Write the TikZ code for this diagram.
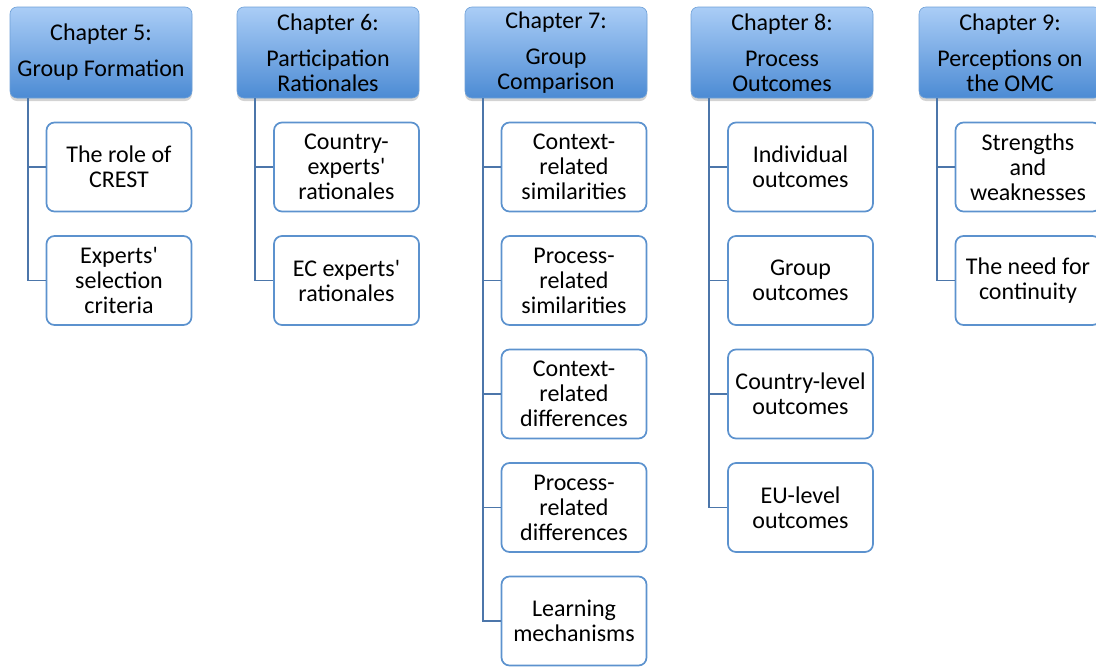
\documentclass[tikz,border=0pt]{standalone}
\usepackage{fontspec}
\setmainfont{Carlito}
\usetikzlibrary{positioning,shadows}

\definecolor{chaptop}{RGB}{170,205,246}
\definecolor{chapbot}{RGB}{76,139,212}
\definecolor{chapline}{RGB}{110,160,215}
\definecolor{topicline}{RGB}{92,146,206}
\definecolor{linkcol}{RGB}{76,118,170}

\tikzset{
    chap/.style={draw=chapline, line width=0.6pt, rounded corners=7pt,
        top color=chaptop, bottom color=chapbot,
        minimum width=182pt, minimum height=91pt, align=center, inner sep=1pt,
        drop shadow={shadow xshift=0pt, shadow yshift=-3pt, opacity=0.35}},
    topic/.style={draw=topicline, line width=1.7pt, fill=white, rounded corners=8pt,
        minimum width=145pt, minimum height=89pt, align=center, inner sep=1pt},
    link/.style={draw=linkcol, line width=1.8pt}
}
\newcommand{\apo}{\textquotesingle}

\begin{document}
\begin{tikzpicture}[x=1pt, y=-1pt, font=\fontsize{24}{25}\selectfont]
    \useasboundingbox (0,0) rectangle (1096,667);
    % chapter headers
    \node[chap] (h5) at (101,52.5) {Chapter 5:\\[11pt]Group Formation};
    \node[chap] (h6) at (328,52.5) {Chapter 6:\\[11pt]Participation\\Rationales};
    \node[chap] (h7) at (556,52.5) {Chapter 7:\\[11pt]Group\\Comparison};
    \node[chap] (h8) at (782,52.5) {Chapter 8:\\[11pt]Process\\Outcomes};
    \node[chap] (h9) at (1010,52.5) {Chapter 9:\\[11pt]Perceptions on\\the OMC};
    % chapter 5
    \node[topic] (c5a) at (119,167) {The role of\\CREST};
    \node[topic] (c5b) at (119,280.5) {Experts\apo\\selection\\criteria};
    % chapter 6
    \node[topic] (c6a) at (346.5,167) {Country-\\experts\apo\\rationales};
    \node[topic] (c6b) at (346.5,280.5) {EC experts\apo\\rationales};
    % chapter 7
    \node[topic] (c7a) at (574,167) {Context-\\related\\similarities};
    \node[topic] (c7b) at (574,280.5) {Process-\\related\\similarities};
    \node[topic] (c7c) at (574,394) {Context-\\related\\differences};
    \node[topic] (c7d) at (574,507.5) {Process-\\related\\differences};
    \node[topic] (c7e) at (574,621) {Learning\\mechanisms};
    % chapter 8
    \node[topic] (c8a) at (800.5,167) {Individual\\outcomes};
    \node[topic] (c8b) at (800.5,280.5) {Group\\outcomes};
    \node[topic] (c8c) at (800.5,394) {Country-level\\outcomes};
    \node[topic] (c8d) at (800.5,507.5) {EU-level\\outcomes};
    % chapter 9
    \node[topic] (c9a) at (1028,167) {Strengths\\and\\weaknesses};
    \node[topic] (c9b) at (1028,280.5) {The need for\\continuity};
    % connectors
    \foreach \h/\kids in {h5/{c5a,c5b}, h6/{c6a,c6b}, h7/{c7a,c7b,c7c,c7d,c7e},
                          h8/{c8a,c8b,c8c,c8d}, h9/{c9a,c9b}} {
        \foreach \k in \kids
            \draw[link] ([xshift=18pt]\h.south west) |- (\k.west);
    }
\end{tikzpicture}
\end{document}
